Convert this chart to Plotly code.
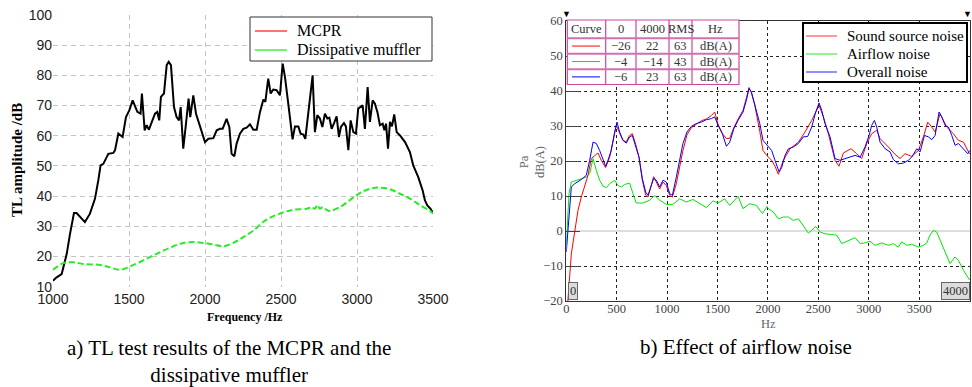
import plotly.graph_objects as go

W, H = 972, 387


def px(x):
    return x / W


def py(y):
    return 1 - y / H


# ---------------- Left chart data (TL) ----------------
mcpr_hz = [1000, 1024, 1057, 1090, 1112, 1138, 1155, 1210, 1243, 1276,
           1298, 1313, 1331, 1364, 1397, 1408, 1430, 1458, 1480, 1502,
           1524, 1539, 1555, 1576, 1585, 1603, 1616, 1631, 1649, 1671,
           1686, 1699, 1710, 1730, 1748, 1761, 1776, 1796, 1813, 1829,
           1840, 1857, 1875, 1892, 1903, 1923, 1941, 1967, 2000, 2022,
           2055, 2077, 2098, 2116, 2142, 2160, 2175, 2193, 2208, 2230,
           2252, 2274, 2296, 2318, 2340, 2362, 2384, 2397, 2416, 2432,
           2449, 2471, 2493, 2511, 2526, 2548, 2563, 2576, 2592, 2614,
           2629, 2647, 2660, 2680, 2695, 2708, 2723, 2739, 2756, 2772,
           2789, 2805, 2818, 2833, 2849, 2866, 2881, 2894, 2914, 2927,
           2943, 2958, 2976, 2993, 3008, 3037, 3052, 3070, 3085, 3103,
           3118, 3134, 3151, 3169, 3180, 3191, 3204, 3217, 3230, 3245,
           3261, 3283, 3316, 3348, 3370, 3403, 3432, 3447, 3463, 3484,
           3500]
mcpr_tl = [12.0, 13.1, 14.2, 20.8, 27.5, 34.4, 34.4, 31.4, 34.2, 39.1,
           45.2, 50.2, 50.7, 54.0, 54.3, 55.2, 60.7, 59.6, 66.2, 68.4,
           71.7, 70.1, 67.9, 67.3, 74.0, 61.8, 63.5, 62.0, 64.6, 67.3,
           67.9, 65.1, 72.9, 74.0, 83.4, 84.5, 83.4, 69.5, 66.2, 65.1,
           69.5, 55.7, 64.0, 72.3, 66.2, 73.4, 67.3, 62.9, 57.9, 59.0,
           59.2, 61.8, 62.3, 62.3, 65.6, 62.9, 54.0, 53.2, 57.4, 60.7,
           62.3, 62.7, 63.8, 62.0, 62.0, 67.9, 72.0, 71.2, 78.9, 74.0,
           75.3, 75.1, 73.4, 83.9, 79.5, 70.6, 65.1, 58.8, 63.1, 63.1,
           60.7, 60.4, 59.0, 67.3, 75.1, 80.0, 61.2, 66.8, 65.7, 62.9,
           67.3, 65.7, 66.0, 62.3, 64.2, 66.4, 59.6, 62.9, 64.2, 63.1,
           55.2, 65.1, 61.2, 60.7, 69.0, 70.1, 62.3, 76.1, 64.6, 71.7,
           70.6, 67.9, 63.5, 64.0, 61.8, 64.0, 55.7, 64.6, 63.1, 67.1,
           61.2, 60.1, 57.9, 54.6, 50.2, 46.3, 41.9, 38.6, 36.9, 35.8,
           34.4]

diss_hz = [1000, 1068, 1134, 1199, 1309, 1375, 1441, 1506, 1594, 1682,
           1769, 1857, 1923, 1989, 2055, 2120, 2186, 2252, 2318, 2405,
           2493, 2581, 2669, 2701, 2723, 2739, 2756, 2774, 2796, 2822,
           2888, 2976, 3041, 3107, 3151, 3217, 3283, 3348, 3414, 3480,
           3500]
diss_tl = [15.6, 17.8, 18.1, 17.5, 17.2, 16.4, 15.6, 16.7, 18.7, 20.9,
           22.9, 24.5, 24.8, 24.5, 24.0, 23.4, 24.5, 26.4, 28.6, 32.2,
           34.2, 35.5, 35.8, 36.4, 35.8, 37.1, 35.8, 36.4, 35.6, 35.1,
           36.4, 39.5, 41.6, 42.7, 42.8, 42.3, 40.8, 39.2, 37.0, 35.1,
           34.2]

left_x_ticks = [1000, 1500, 2000, 2500, 3000, 3500]
left_y_ticks = [10, 20, 30, 40, 50, 60, 70, 80, 90, 100]
left_legend_names = ["MCPR", "Dissipative muffler"]
left_legend_colors = ["#ff4444", "#44ee44"]

# ---------------- Right chart data (noise) ----------------
overall_hz = [0, 27, 50, 83, 149, 198, 232, 265, 298, 331,
              364, 390, 413, 446, 480, 503, 529, 562, 595, 628,
              655, 688, 721, 754, 788, 810, 834, 866, 893, 926,
              959, 992, 1025, 1052, 1091, 1124, 1157, 1197, 1240, 1290,
              1339, 1389, 1439, 1472, 1505, 1548, 1588, 1621, 1661, 1704,
              1753, 1786, 1812, 1836, 1869, 1919, 1951, 1991, 2037, 2070,
              2110, 2136, 2169, 2203, 2252, 2302, 2351, 2394, 2434, 2474,
              2507, 2533, 2566, 2616, 2665, 2715, 2765, 2814, 2864, 2914,
              2963, 3003, 3029, 3056, 3079, 3112, 3162, 3211, 3244, 3294,
              3343, 3393, 3426, 3476, 3509, 3552, 3591, 3625, 3658, 3697,
              3724, 3757, 3790, 3823, 3856, 3889, 3922, 3955, 3982, 4000]
overall_db = [-6.0, 5.0, 12.6, 13.5, 14.7, 15.9, 20.2, 25.4, 25.0, 23.0,
              20.7, 18.5, 20.2, 23.0, 28.3, 31.1, 28.3, 25.9, 25.1, 26.9,
              27.3, 24.5, 21.1, 15.0, 11.1, 10.2, 12.1, 15.0, 14.5, 12.6,
              14.5, 14.0, 10.7, 10.2, 15.4, 20.7, 25.0, 28.3, 29.9, 30.7,
              31.1, 31.8, 32.1, 32.6, 30.2, 27.8, 24.2, 25.4, 29.2, 31.6,
              34.0, 37.3, 40.7, 39.7, 36.4, 30.7, 25.9, 24.5, 23.0, 20.2,
              16.9, 18.1, 21.6, 23.5, 24.0, 25.0, 26.9, 27.0, 29.7, 34.0,
              36.6, 34.5, 30.7, 26.9, 20.7, 20.2, 20.7, 21.3, 21.6, 21.1,
              24.0, 27.3, 30.2, 31.6, 29.7, 25.4, 23.5, 22.6, 20.4, 19.2,
              19.4, 20.2, 21.1, 23.5, 22.6, 27.3, 26.9, 26.1, 27.3, 34.0,
              32.6, 30.2, 29.7, 27.3, 24.5, 25.0, 24.0, 23.0, 22.1, 23.0]

source_hz = [0, 27, 50, 83, 116, 149, 182, 215, 248, 281,
             314, 347, 390, 430, 463, 496, 529, 562, 595, 628,
             655, 688, 721, 754, 788, 810, 834, 866, 893, 926,
             959, 992, 1025, 1052, 1091, 1124, 1157, 1197, 1240, 1290,
             1339, 1389, 1439, 1472, 1505, 1548, 1588, 1621, 1661, 1704,
             1753, 1786, 1812, 1836, 1869, 1919, 1951, 1991, 2037, 2070,
             2103, 2153, 2219, 2302, 2368, 2434, 2507, 2550, 2599, 2665,
             2705, 2748, 2824, 2880, 2930, 2980, 3029, 3079, 3112, 3195,
             3261, 3310, 3360, 3426, 3492, 3542, 3585, 3625, 3658, 3707,
             3773, 3839, 3889, 3939, 4000]
source_db = [-26.0, -16.0, -6.5, -0.3, 5.9, 9.7, 12.6, 15.9, 20.7, 21.6,
             22.3, 20.2, 18.1, 21.1, 25.4, 30.2, 28.0, 25.9, 25.5, 27.3,
             27.8, 24.8, 21.1, 14.5, 10.2, 9.7, 12.1, 15.5, 14.0, 12.0,
             14.0, 13.0, 10.2, 9.7, 13.5, 18.3, 23.0, 27.5, 29.5, 30.5,
             31.5, 32.0, 33.0, 34.0, 30.5, 27.8, 26.4, 26.5, 29.5, 32.0,
             34.5, 38.0, 41.0, 39.5, 36.0, 28.5, 23.0, 21.5, 20.2, 18.5,
             16.2, 20.2, 23.5, 25.4, 28.3, 31.6, 35.9, 32.6, 27.8, 20.2,
             18.5, 22.3, 23.5, 22.1, 20.7, 25.0, 27.8, 28.8, 26.4, 24.0,
             21.9, 20.7, 22.1, 21.3, 23.0, 26.9, 31.1, 29.7, 28.3, 33.5,
             29.7, 27.8, 25.9, 25.4, 22.0]

airflow_hz = [0, 7, 27, 50, 99, 149, 198, 232, 265, 298,
              331, 364, 397, 430, 480, 513, 546, 579, 628, 661,
              694, 761, 827, 876, 926, 992, 1058, 1124, 1190, 1257,
              1323, 1389, 1455, 1505, 1571, 1621, 1704, 1753, 1819, 1886,
              1945, 1991, 2004, 2054, 2103, 2153, 2203, 2252, 2302, 2351,
              2401, 2434, 2474, 2517, 2566, 2632, 2682, 2732, 2798, 2864,
              2914, 2963, 3013, 3062, 3128, 3195, 3244, 3294, 3327, 3377,
              3426, 3492, 3542, 3575, 3608, 3641, 3674, 3707, 3757, 3806,
              3856, 3889, 3939, 4000]
airflow_db = [-4.0, 1.1, 10.7, 14.0, 14.5, 15.0, 15.4, 16.4, 20.7, 17.3,
              14.5, 12.8, 12.4, 13.5, 14.5, 13.0, 12.6, 13.3, 13.7, 10.7,
              8.0, 8.0, 8.8, 10.2, 8.8, 7.6, 7.6, 9.2, 8.3, 9.0,
              7.8, 6.7, 8.6, 8.0, 9.2, 7.3, 9.9, 6.4, 7.8, 7.3,
              5.0, 7.0, 6.4, 5.4, 3.5, 4.0, 4.0, 3.0, 3.5, 1.6,
              -0.6, 0.2, 1.3, -0.3, -0.8, -1.0, -1.2, -3.6, -2.7, -1.9,
              -3.6, -3.4, -2.9, -4.1, -3.4, -4.1, -3.6, -4.6, -3.1, -4.1,
              -3.8, -4.6, -4.1, -3.4, -1.2, 0.2, -0.3, -2.7, -6.0, -9.3,
              -7.4, -8.4, -11.2, -14.0]

right_x_ticks = [0, 500, 1000, 1500, 2000, 2500, 3000, 3500, 4000]
right_x_labels = ["0", "500", "1000", "1500", "2000", "2500", "3000", "3500",
                  "4000\u00a0\u00a0\u00a0\u00a0\u00a0"]
right_y_ticks = [-20, -10, 0, 10, 20, 30, 40, 50, 60]
right_legend_names = ["Sound source noise", "Airflow noise", "Overall noise"]
right_legend_colors = ["#ff5555", "#44ee44", "#4444ff"]

# summary table (Curve | 0 | 4000 | RMS | Hz)
table_header = ["Curve", "0", "4000", "RMS", "Hz"]
table_start = [-26, -4, -6]
table_end = [22, -14, 23]
table_rms = [63, 43, 63]
table_unit = ["dB(A)", "dB(A)", "dB(A)"]

RED, GREEN, BLUE = "#ff0000", "#00e600", "#0000ff"
curve_colors = [RED, GREEN, BLUE]

SERIF = "Liberation Serif"
SANS = "Liberation Sans"

fig = go.Figure()

# ---- left traces ----
fig.add_trace(go.Scatter(x=mcpr_hz, y=mcpr_tl, mode="lines", name="MCPR",
                         line=dict(color="black", width=2),
                         showlegend=False, xaxis="x", yaxis="y"))
fig.add_trace(go.Scatter(x=diss_hz, y=diss_tl, mode="lines", name="Dissipative muffler",
                         line=dict(color="#22ee22", width=2, dash="6px,3px", shape="spline"),
                         showlegend=False, xaxis="x", yaxis="y"))

# ---- right traces ----
fig.add_trace(go.Scatter(x=airflow_hz, y=airflow_db, mode="lines", name="Airflow noise",
                         line=dict(color=GREEN, width=1), showlegend=False,
                         xaxis="x2", yaxis="y2"))
fig.add_trace(go.Scatter(x=source_hz, y=source_db, mode="lines", name="Sound source noise",
                         line=dict(color=RED, width=1), showlegend=False,
                         xaxis="x2", yaxis="y2"))
fig.add_trace(go.Scatter(x=overall_hz, y=overall_db, mode="lines", name="Overall noise",
                         line=dict(color=BLUE, width=1), showlegend=False,
                         xaxis="x2", yaxis="y2"))

shapes = []
annotations = []


def note(x, y, text, font, **kw):
    d = dict(x=px(x), y=py(y), xref="paper", yref="paper", text=text,
             showarrow=False, font=font, xanchor="center", yanchor="middle")
    d.update(kw)
    annotations.append(d)


def rect(x0, y0, x1, y1, line, fill="white"):
    shapes.append(dict(type="rect", xref="paper", yref="paper",
                       x0=px(x0), x1=px(x1), y0=py(y1), y1=py(y0),
                       fillcolor=fill, line=line, layer="above"))


def seg(x0, y0, x1, y1, line):
    shapes.append(dict(type="line", xref="paper", yref="paper",
                       x0=px(x0), x1=px(x1), y0=py(y0), y1=py(y1),
                       line=line, layer="above"))


# ---- legends (drawn boxes) ----
rect(250, 17, 432, 61, dict(color="#333", width=1))
for i, (nm, col) in enumerate(zip(left_legend_names, left_legend_colors)):
    yy = 31 + i * 19
    seg(255, yy, 287, yy, dict(color=col, width=1.5))
    note(295, yy, nm, dict(family=SERIF, size=16, color="black"), xanchor="left")

rect(803, 23, 967, 82, dict(color="black", width=2))
for i, (nm, col) in enumerate(zip(right_legend_names, right_legend_colors)):
    yy = 36 + i * 18
    seg(806, yy, 837, yy, dict(color=col, width=1.2))
    note(845, yy, nm, dict(family=SERIF, size=15, color="black"), xanchor="left")

# ---- table on right chart ----
col_edges = [567.3, 605.7, 636, 669, 692, 739]
row_edges = [20, 38.3, 53.8, 69.3, 84.5]
PINK = "#c8489a"
rect(col_edges[0], row_edges[0], col_edges[-1], row_edges[-1], dict(color=PINK, width=1.2))
for cx in col_edges[1:-1]:
    seg(cx, row_edges[0], cx, row_edges[-1], dict(color=PINK, width=1.2))
for ry in row_edges[1:-1]:
    seg(col_edges[0], ry, col_edges[-1], ry, dict(color="#d070b0", width=2))


def cell_center(ci, ri):
    return ((col_edges[ci] + col_edges[ci + 1]) / 2, (row_edges[ri] + row_edges[ri + 1]) / 2)


TFONT = dict(family=SERIF, size=12.5, color="#333")
for ci, txt in enumerate(table_header):
    cx, cy = cell_center(ci, 0)
    note(cx, cy, txt, TFONT)
for ri in range(3):
    cx, cy = cell_center(0, ri + 1)
    seg(572, cy, 600, cy, dict(color=curve_colors[ri], width=1))
    vals = [str(table_start[ri]).replace("-", "\u2212"), str(table_end[ri]).replace("-", "\u2212"),
            str(table_rms[ri]), table_unit[ri]]
    for k, v in enumerate(vals):
        cx, cy = cell_center(k + 1, ri + 1)
        note(cx, cy, v, TFONT)

# ---- markers & range boxes on right chart ----
for xx in [566.3, 967.5]:
    note(xx, 14, "\u25bc", dict(size=9, color="black"))
BOXFONT = dict(family=SERIF, size=12.5, color="#333")
note(567.5, 300, "0", BOXFONT, xanchor="left", yanchor="bottom", bgcolor="#dcdcdc",
     bordercolor="#666", borderwidth=1, borderpad=1)
note(969.5, 300, "4000", BOXFONT, xanchor="right", yanchor="bottom", bgcolor="#dcdcdc",
     bordercolor="#666", borderwidth=1, borderpad=1)

# ---- axis titles and captions ----
note(17, 160, "<b>TL amplitude /dB</b>", dict(family=SERIF, size=15, color="black"), textangle=-90)
note(245, 317, "<b>Frequency /Hz</b>", dict(family=SERIF, size=12, color="black"))
note(229, 361, "a) TL test results of the MCPR and the<br>dissipative muffler",
     dict(family=SERIF, size=21, color="black"), align="center")
note(746, 347, "b) Effect of airflow noise", dict(family=SERIF, size=21, color="black"))
note(532, 162, "Pa<br>dB(A)", dict(family=SERIF, size=12.5, color="#666"), textangle=-90)
note(768, 324, "Hz", dict(family=SERIF, size=12.5, color="#666"))

fig.update_layout(
    width=W, height=H, margin=dict(l=0, r=0, t=0, b=0, autoexpand=False),
    paper_bgcolor="white", plot_bgcolor="white",
    showlegend=False,
    xaxis=dict(domain=[px(53), px(433)], range=[1000, 3500], tickvals=left_x_ticks,
               showgrid=True, gridcolor="#c4c4c4", griddash="5px,4px", gridwidth=1,
               zeroline=False, showline=False, ticks="", automargin=False,
               ticklabelstandoff=2,
               tickfont=dict(family=SANS, size=14, color="#222"), anchor="y"),
    yaxis=dict(domain=[py(286.7), py(15)], range=[10, 100], tickvals=left_y_ticks,
               showgrid=True, gridcolor="#c4c4c4", griddash="5px,4px", gridwidth=1,
               zeroline=False, showline=False, ticks="", automargin=False,
               tickfont=dict(family=SANS, size=14, color="#222"), anchor="x"),
    xaxis2=dict(domain=[px(566.3), px(970)], range=[0, 4004], tickvals=right_x_ticks,
                ticktext=right_x_labels,
                showgrid=True, gridcolor="#222", griddash="3px,3px", gridwidth=1,
                zeroline=False, showline=True, mirror=True, linecolor="#333", linewidth=1,
                ticks="", automargin=False, ticklabelstandoff=-4,
                tickfont=dict(family=SERIF, size=12.5, color="#444"), anchor="y2"),
    yaxis2=dict(domain=[py(301), py(21)], range=[-20, 60], tickvals=right_y_ticks,
                showgrid=True, gridcolor="#222", griddash="3px,3px", gridwidth=1,
                zeroline=True, zerolinecolor="#dddddd", zerolinewidth=2,
                showline=True, mirror=True, linecolor="#333", linewidth=1,
                ticks="inside", ticklen=14, tickcolor="#444", automargin=False,
                tickfont=dict(family=SERIF, size=12.5, color="#444"), anchor="x2"),
    shapes=shapes, annotations=annotations,
)

fig.write_html("out.html", config={"displayModeBar": False},
               post_script="document.body.style.margin='0px';")
